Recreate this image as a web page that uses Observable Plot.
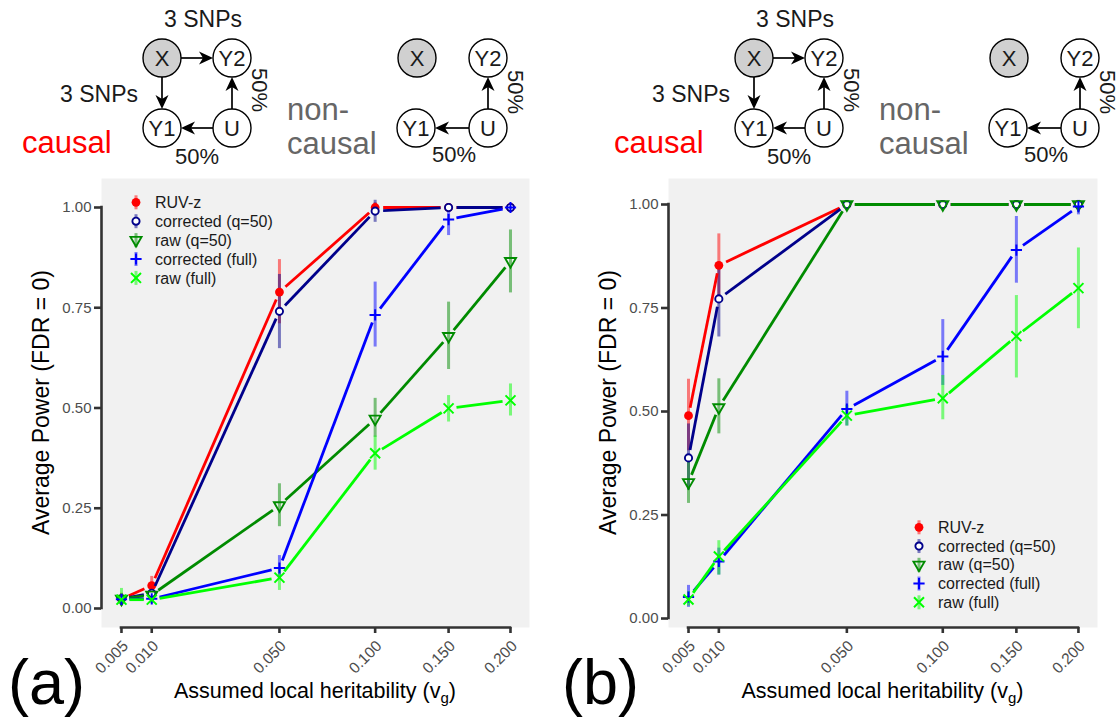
<!DOCTYPE html>
<html>
<head>
<meta charset="utf-8">
<script src="https://cdn.jsdelivr.net/npm/d3@7"></script>
<script src="https://cdn.jsdelivr.net/npm/@observablehq/plot@0.6"></script>
<style>
html, body { margin: 0; padding: 0; background: #ffffff; }
#root { position: relative; width: 1117px; height: 719px; overflow: hidden; background: #ffffff; }
#root svg { position: absolute; font-family: "Liberation Sans", Arial, Helvetica, sans-serif; }
g[aria-label="y-axis tick label"] { fill: #4d4d4d; }
g[aria-label="y-axis tick"], g[aria-label="x-axis tick"] { stroke: #333333; stroke-width: 2.6px; }
</style>
</head>
<body>
<div id="root"></div>
<script>
// ---------------- data ----------------
const xValues = [0.005, 0.01, 0.05, 0.1, 0.15, 0.2];
const xTicks = [0.005, 0.01, 0.05, 0.1, 0.15, 0.2];
const yTicks = [0, 0.25, 0.5, 0.75, 1];
const seriesNames = ["RUV-z", "corrected (q=50)", "raw (q=50)", "corrected (full)", "raw (full)"];
const seriesColors = ["#ff0000", "#00008b", "#008b00", "#0000ff", "#00ff00"];
const seriesSymbols = ["circle", "circle", "triangle", "plus", "times"];

// panel (a): causal scenario
const a_ruvz      = [0.024, 0.057, 0.789, 1.000, 1.000, 1.000];
const a_ruvz_lo   = [0.010, 0.035, 0.710, 0.990, 1.000, 1.000];
const a_ruvz_hi   = [0.038, 0.080, 0.870, 1.012, 1.000, 1.000];
const a_corq      = [0.024, 0.038, 0.741, 0.991, 1.000, 1.000];
const a_corq_lo   = [0.012, 0.025, 0.648, 0.963, 1.000, 1.000];
const a_corq_hi   = [0.036, 0.050, 0.833, 1.018, 1.000, 1.000];
const a_rawq      = [0.024, 0.034, 0.257, 0.473, 0.679, 0.866];
const a_rawq_lo   = [0.012, 0.022, 0.204, 0.427, 0.596, 0.787];
const a_rawq_hi   = [0.036, 0.046, 0.311, 0.524, 0.764, 0.944];
const a_corf      = [0.023, 0.024, 0.101, 0.732, 0.970, 1.000];
const a_corf_lo   = [0.012, 0.014, 0.072, 0.652, 0.930, 0.990];
const a_corf_hi   = [0.034, 0.034, 0.132, 0.814, 1.010, 1.010];
const a_rawf      = [0.022, 0.022, 0.077, 0.387, 0.499, 0.519];
const a_rawf_lo   = [0.006, 0.012, 0.045, 0.345, 0.465, 0.480];
const a_rawf_hi   = [0.050, 0.034, 0.098, 0.430, 0.531, 0.560];

// panel (b): non-causal scenario
const b_ruvz      = [0.490, 0.853, 1.000, 1.000, 1.000, 1.000];
const b_ruvz_lo   = [0.405, 0.780, 1.000, 1.000, 1.000, 1.000];
const b_ruvz_hi   = [0.578, 0.929, 1.000, 1.000, 1.000, 1.000];
const b_corq      = [0.388, 0.772, 1.000, 1.000, 1.000, 1.000];
const b_corq_lo   = [0.310, 0.680, 1.000, 1.000, 1.000, 1.000];
const b_corq_hi   = [0.470, 0.860, 1.000, 1.000, 1.000, 1.000];
const b_rawq      = [0.329, 0.510, 1.000, 1.000, 1.000, 1.000];
const b_rawq_lo   = [0.278, 0.446, 1.000, 1.000, 1.000, 1.000];
const b_rawq_hi   = [0.382, 0.579, 1.000, 1.000, 1.000, 1.000];
const b_corf      = [0.052, 0.138, 0.506, 0.633, 0.890, 0.995];
const b_corf_lo   = [0.027, 0.105, 0.465, 0.563, 0.810, 0.975];
const b_corf_hi   = [0.080, 0.170, 0.549, 0.722, 0.971, 1.010];
const b_rawf      = [0.046, 0.150, 0.490, 0.532, 0.682, 0.798];
const b_rawf_lo   = [0.030, 0.105, 0.465, 0.480, 0.581, 0.700];
const b_rawf_hi   = [0.065, 0.188, 0.515, 0.587, 0.780, 0.895];

// axis limits (expanded, as in the original)
const xLimits = [0.00264, 0.2168];
const yLimitsA = [-0.0474, 1.0723];
const yLimitsB = [-0.0217, 1.0628];

// ---------------- styles ----------------
const FONT = '"Liberation Sans", Arial, Helvetica, sans-serif';
const panelFill = "#f1f1f1";
const axisColor = "#333333";
const dotR = [4.4, 3.6, 4.1, 3.7, 4.6];
const dotStrokeW = [0, 1.9, 1.9, 2.0, 2.0];
const dotRotate = [0, 0, 180, 0, 0];
const dotFill = ["#ff0000", "#ffffff", "none", "none", "none"];
const lineGap = 8;

const root = document.getElementById("root");

function makePanel(cfg) {
  const {means, los, his, yLimits, left, width, marginLeft, marginRight, legend} = cfg;
  const height = 549, marginTop = 8, marginBottom = 92;
  // replicas of the plot's scales, used only to open the small gaps around points
  const sx = d3.scalePow().exponent(0.5).domain(xLimits).range([marginLeft, width - marginRight]);
  const sy = d3.scaleLinear().domain(yLimits).range([height - marginBottom, marginTop]);
  const pts = [];
  const segs = [];
  seriesNames.forEach((name, s) => {
    xValues.forEach((x, i) => pts.push({s, x, y: means[s][i], lo: los[s][i], hi: his[s][i]}));
    d3.pairs(xValues.map((x, i) => ({x, y: means[s][i]}))).forEach(([a, b]) => {
      const ax = sx(a.x), ay = sy(a.y), bx = sx(b.x), by = sy(b.y);
      const L = Math.hypot(bx - ax, by - ay);
      if (L <= 2 * lineGap) return;
      const ux = (bx - ax) / L, uy = (by - ay) / L;
      segs.push({s,
        x1: sx.invert(ax + ux * lineGap), y1: sy.invert(ay + uy * lineGap),
        x2: sx.invert(bx - ux * lineGap), y2: sy.invert(by - uy * lineGap)});
    });
  });

  const marks = [
    Plot.frame({fill: panelFill, stroke: null}),
    Plot.axisY(yTicks, {anchor: "left", tickFormat: d3.format(".2f"), tickSize: 7, tickPadding: 3,
      fontSize: 15, label: null}),
    Plot.axisX(xTicks, {anchor: "bottom", tickFormat: () => "", tickSize: 6, label: null}),
    Plot.text(xTicks, {x: d => d, y: yLimits[0], text: d3.format(".3f"), rotate: -45,
      textAnchor: "end", dx: 4, dy: 16, fontSize: 15.5, fill: "#4d4d4d"}),
    Plot.ruleX([xLimits[0]], {y1: yTicks[0], y2: yTicks[yTicks.length - 1], stroke: axisColor,
      strokeWidth: 2.6, strokeLinecap: "square"}),
    Plot.ruleY([yLimits[0]], {x1: xTicks[0], x2: xTicks[xTicks.length - 1], stroke: axisColor,
      strokeWidth: 2.6, strokeLinecap: "square"}),
    // error bars
    Plot.ruleX(pts, {x: "x", y1: "lo", y2: "hi", stroke: d => seriesColors[d.s], strokeOpacity: 0.5,
      strokeWidth: 3})
  ];
  seriesNames.forEach((name, s) => {
    marks.push(Plot.link(segs.filter(d => d.s === s), {x1: "x1", y1: "y1", x2: "x2", y2: "y2",
      stroke: seriesColors[s], strokeWidth: 2.8, strokeLinecap: "butt"}));
    const filled = s === 0;
    marks.push(Plot.dot(pts.filter(d => d.s === s), {x: "x", y: "y", symbol: seriesSymbols[s],
      r: dotR[s], rotate: dotRotate[s],
      fill: dotFill[s],
      stroke: filled ? "none" : seriesColors[s], strokeWidth: dotStrokeW[s]}));
  });

  const chart = Plot.plot({
    width, height, marginLeft, marginRight, marginTop, marginBottom,
    style: {background: "transparent", overflow: "visible", fontFamily: FONT},
    x: {type: "sqrt", domain: xLimits},
    y: {domain: yLimits},
    marks
  });
  chart.style.left = left + "px";
  chart.style.top = "170px";
  root.appendChild(chart);

  const svg = d3.select(chart);
  const frameMidY = marginTop + (height - marginTop - marginBottom) / 2;
  const frameMidX = marginLeft + (width - marginLeft - marginRight) / 2;
  // y title
  svg.append("text")
    .attr("transform", `translate(${marginLeft - 52},${frameMidY}) rotate(-90)`)
    .attr("text-anchor", "middle").attr("font-size", 23).attr("fill", "#000")
    .attr("font-family", FONT)
    .text("Average Power (FDR = 0)");
  // x title with subscript
  const xt = svg.append("text")
    .attr("x", frameMidX).attr("y", 528)
    .attr("text-anchor", "middle").attr("font-size", 21.5).attr("fill", "#000")
    .attr("font-family", FONT);
  xt.append("tspan").text("Assumed local heritability (v");
  xt.append("tspan").attr("font-size", 15).attr("dy", 5).text("g");
  xt.append("tspan").attr("dy", -5).text(")");

  // legend
  const lg = svg.append("g").attr("text-anchor", "start");
  const types = [d3.symbolCircle, d3.symbolCircle, d3.symbolTriangle, d3.symbolPlus, d3.symbolTimes];
  seriesNames.forEach((name, s) => {
    const cy = legend.y + s * legend.step;
    lg.append("line").attr("x1", legend.x).attr("x2", legend.x)
      .attr("y1", cy - 7).attr("y2", cy + 7)
      .attr("stroke", seriesColors[s]).attr("stroke-opacity", 0.5).attr("stroke-width", 3);
    const filled = s === 0;
    lg.append("path")
      .attr("d", d3.symbol(types[s], Math.PI * dotR[s] * dotR[s])())
      .attr("transform", `translate(${legend.x},${cy}) rotate(${dotRotate[s]})`)
      .attr("fill", dotFill[s])
      .attr("stroke", filled ? "none" : seriesColors[s])
      .attr("stroke-width", dotStrokeW[s]);
    lg.append("text").attr("x", legend.x + 19).attr("y", cy).attr("dy", "0.35em")
      .attr("text-anchor", "start")
      .attr("font-size", 16).attr("fill", "#1a1a1a").attr("font-family", FONT).text(name);
  });
  return chart;
}

makePanel({
  means: [a_ruvz, a_corq, a_rawq, a_corf, a_rawf],
  los: [a_ruvz_lo, a_corq_lo, a_rawq_lo, a_corf_lo, a_rawf_lo],
  his: [a_ruvz_hi, a_corq_hi, a_rawq_hi, a_corf_hi, a_rawf_hi],
  yLimits: yLimitsA, left: 0, width: 560, marginLeft: 101, marginRight: 31,
  legend: {x: 136, y: 32.3, step: 18.9}
});
makePanel({
  means: [b_ruvz, b_corq, b_rawq, b_corf, b_rawf],
  los: [b_ruvz_lo, b_corq_lo, b_rawq_lo, b_corf_lo, b_rawf_lo],
  his: [b_ruvz_hi, b_corq_hi, b_rawq_hi, b_corf_hi, b_rawf_hi],
  yLimits: yLimitsB, left: 560, width: 557, marginLeft: 108, marginRight: 20,
  legend: {x: 359, y: 357.3, step: 18.75}
});

// ---------------- diagrams & panel tags ----------------
const over = d3.select(root).append("svg")
  .attr("width", 1117).attr("height", 719)
  .style("left", "0px").style("top", "0px").style("pointer-events", "none");

const nodeR = 19;
const causalNodes = [
  {id: "X", x: 162, y: 58, shaded: true}, {id: "Y2", x: 232, y: 58},
  {id: "Y1", x: 162, y: 128}, {id: "U", x: 232, y: 128}
];
const causalEdges = [["X", "Y2"], ["X", "Y1"], ["U", "Y2"], ["U", "Y1"]];
const nonCausalNodes = [
  {id: "X", x: 417, y: 58, shaded: true}, {id: "Y2", x: 488, y: 58},
  {id: "Y1", x: 416, y: 128}, {id: "U", x: 488, y: 128}
];
const nonCausalEdges = [["U", "Y2"], ["U", "Y1"]];

function drawGraph(g, nodes, edges) {
  const byId = Object.fromEntries(nodes.map(n => [n.id, n]));
  edges.forEach(([a, b]) => {
    const p = byId[a], q = byId[b];
    const dx = q.x - p.x, dy = q.y - p.y, L = Math.hypot(dx, dy);
    const ux = dx / L, uy = dy / L;
    const sx = p.x + ux * nodeR, sy = p.y + uy * nodeR;
    const tx = q.x - ux * nodeR, ty = q.y - uy * nodeR;
    g.append("line").attr("x1", sx).attr("y1", sy).attr("x2", tx - ux * 8).attr("y2", ty - uy * 8)
      .attr("stroke", "#000").attr("stroke-width", 1.7);
    const ang = Math.atan2(uy, ux) * 180 / Math.PI;
    g.append("path").attr("d", "M0,0 L-14,-6.5 L-10,0 L-14,6.5 Z")
      .attr("transform", `translate(${tx},${ty}) rotate(${ang})`).attr("fill", "#000");
  });
  nodes.forEach(n => {
    g.append("circle").attr("cx", n.x).attr("cy", n.y).attr("r", nodeR)
      .attr("fill", n.shaded ? "#d0d0d0" : "#ffffff").attr("stroke", "#000").attr("stroke-width", 1.4);
    g.append("text").attr("x", n.x).attr("y", n.y).attr("dy", "0.36em").attr("text-anchor", "middle")
      .attr("font-size", 22).attr("fill", "#1a1a1a").attr("font-family", FONT).text(n.id);
  });
}

function drawDiagram(ox, tag, tagX) {
  const g = over.append("g").attr("transform", `translate(${ox},0)`);
  const t = (x, y, s, size, fill, anchor) => g.append("text").attr("x", x).attr("y", y)
    .attr("font-size", size).attr("fill", fill).attr("text-anchor", anchor || "start")
    .attr("font-family", FONT).text(s);
  t(203, 27, "3 SNPs", 23, "#1a1a1a", "middle");
  t(138, 102, "3 SNPs", 23, "#1a1a1a", "end");
  g.append("text").attr("transform", "translate(252,90) rotate(90)").attr("text-anchor", "middle")
    .attr("font-size", 22).attr("fill", "#1a1a1a").attr("font-family", FONT).text("50%");
  t(197, 164, "50%", 22, "#1a1a1a", "middle");
  t(22, 153, "causal", 31, "#ff0000");
  t(287, 120, "non-", 31, "#666666");
  t(287, 154, "causal", 31, "#666666");
  g.append("text").attr("transform", "translate(508,92) rotate(90)").attr("text-anchor", "middle")
    .attr("font-size", 22).attr("fill", "#1a1a1a").attr("font-family", FONT).text("50%");
  t(454, 162, "50%", 22, "#1a1a1a", "middle");
  drawGraph(g, causalNodes, causalEdges);
  drawGraph(g, nonCausalNodes, nonCausalEdges);
  over.append("text").attr("x", tagX).attr("y", 704).attr("font-size", 63).attr("fill", "#000")
    .attr("font-family", FONT).text(tag);
}
drawDiagram(0, "(a)", 8);
drawDiagram(592, "(b)", 562);
</script>
</body>
</html>
